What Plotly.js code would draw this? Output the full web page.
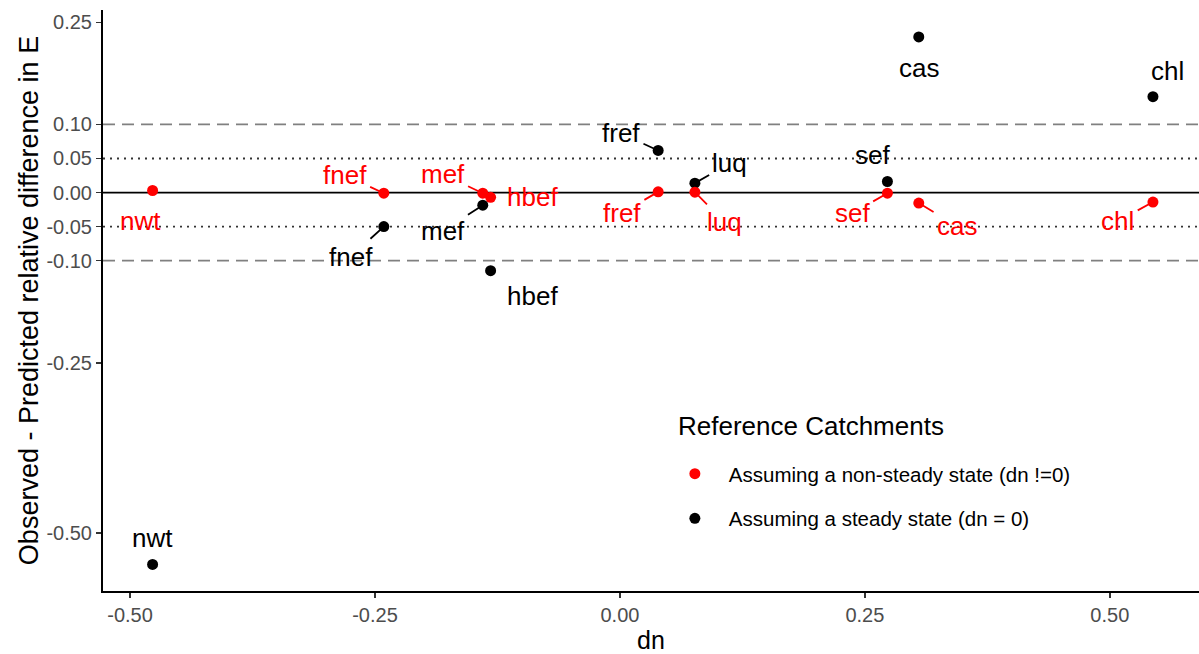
<!DOCTYPE html>
<html>
<head>
<meta charset="utf-8">
<script src="https://cdn.plot.ly/plotly-3.0.1.min.js"></script>
<style>
  html, body { margin: 0; padding: 0; background: #fff; }
  #chart { width: 1199px; height: 654px; }
</style>
</head>
<body>
<div id="chart"></div>
<script>
// ---- data ----
const catchments = ["nwt", "fnef", "mef", "hbef", "fref", "luq", "sef", "cas", "chl"];
const dn = [-0.477, -0.241, -0.140, -0.132, 0.039, 0.0765, 0.273, 0.305, 0.544];
const diffNonSteady = [0.003, -0.001, -0.001, -0.007, 0.001, 0.0005, -0.001, -0.0155, -0.014];
const diffSteady = [-0.546, -0.050, -0.0186, -0.1147, 0.0618, 0.0138, 0.0162, 0.2285, 0.1407];
const seriesNames = ["Assuming a non-steady state (dn !=0)", "Assuming a steady state (dn = 0)"];
const legendTitle = "Reference Catchments";
const xTickVals = [-0.5, -0.25, 0, 0.25, 0.5];
const xTickText = ["-0.50", "-0.25", "0.00", "0.25", "0.50"];
const yTickVals = [-0.5, -0.25, -0.1, -0.05, 0, 0.05, 0.1, 0.25];
const yTickText = ["-0.50", "-0.25", "-0.10", "-0.05", "0.00", "0.05", "0.10", "0.25"];

// ---- label placement (pixel offsets of label centre from point; repel-style) ----
const offNonSteady = [[-12, 30, 0], [-39, -18, 1], [-40, -19, 1], [42, 0, 0], [-36, 21, 1], [30, 30, 1], [-35, 20, 1], [38, 23, 1], [-35, 19, 1]];
const offSteady = [[0, -26, 0], [-33, 30, 1], [-40, 26, 1], [42, 25, 0], [-37, -17, 1], [35, -20, 1], [-15, -27, 0], [0, 31, 0], [15, -26, 0]];

const RED = "#ff0000";
const BLK = "#000000";
const FONT = "Liberation Sans, Arial, sans-serif";

const traces = [
  {
    type: "scatter", mode: "markers", name: seriesNames[1], legendgroup: "b", legendrank: 2,
    x: dn, y: diffSteady, text: catchments,
    marker: { color: BLK, size: 11 }, hoverinfo: "text+x+y"
  },
  {
    type: "scatter", mode: "markers", name: seriesNames[0], legendgroup: "a", legendrank: 1,
    x: dn, y: diffNonSteady, text: catchments,
    marker: { color: RED, size: 11 }, hoverinfo: "text+x+y"
  }
];

function makeLabels(ys, offs, color) {
  return catchments.map((c, i) => ({
    x: dn[i], y: ys[i], xref: "x", yref: "y",
    text: c, showarrow: true, ax: offs[i][0], ay: offs[i][1],
    arrowhead: 0, arrowwidth: 1.8, standoff: 0, startstandoff: 2,
    arrowcolor: offs[i][2] ? color : "rgba(0,0,0,0)",
    font: { family: FONT, size: 26, color: color }
  }));
}

const annotations = makeLabels(diffNonSteady, offNonSteady, RED)
  .concat(makeLabels(diffSteady, offSteady, BLK))
  .concat([{
    xref: "paper", yref: "paper", x: 0.5228, y: 0.284, xanchor: "left", yanchor: "middle",
    text: legendTitle, showarrow: false, font: { family: FONT, size: 26, color: "#000" }
  }]);

function hline(y, color, dash) {
  return { type: "line", xref: "paper", x0: 0, x1: 1, yref: "y", y0: y, y1: y,
           layer: "below", line: { color: color, width: 1.8, dash: dash } };
}
const shapes = [
  hline(0.10, "#808080", "12px,7px"), hline(-0.10, "#808080", "12px,7px"),
  hline(0.05, "#333333", "2px,5px"), hline(-0.05, "#333333", "2px,5px"),
  hline(0, "#000000", "solid")
];

const layout = {
  width: 1199, height: 654,
  margin: { l: 103, r: 0, t: 10, b: 63 },
  paper_bgcolor: "#ffffff", plot_bgcolor: "#ffffff",
  font: { family: FONT, color: "#000" },
  showlegend: true,
  legend: {
    x: 0.509, y: 0.236, xanchor: "left", yanchor: "top",
    bgcolor: "rgba(0,0,0,0)", traceorder: "grouped", tracegroupgap: 15,
    itemwidth: 58,
    font: { family: FONT, size: 20.5, color: "#000" }
  },
  xaxis: {
    range: [-0.5276, 0.591], tickvals: xTickVals, ticktext: xTickText,
    showgrid: false, zeroline: false, showline: true, linecolor: "#000", linewidth: 2,
    ticks: "outside", ticklen: 5, tickwidth: 1.5, tickcolor: "#333",
    tickfont: { family: FONT, size: 20, color: "#4d4d4d" },
    title: { text: "dn", font: { family: FONT, size: 25, color: "#000" }, standoff: 12 }
  },
  yaxis: {
    range: [-0.585, 0.268], tickvals: yTickVals, ticktext: yTickText,
    showgrid: false, zeroline: false, showline: true, linecolor: "#000", linewidth: 2,
    ticks: "outside", ticklen: 5, tickwidth: 1.5, tickcolor: "#333",
    tickfont: { family: FONT, size: 20, color: "#4d4d4d" },
    title: { text: "Observed - Predicted relative difference in E", font: { family: FONT, size: 27, color: "#000" }, standoff: 0 }
  },
  shapes: shapes,
  annotations: annotations
};

Plotly.newPlot("chart", traces, layout, { displayModeBar: false, staticPlot: true });
</script>
</body>
</html>
